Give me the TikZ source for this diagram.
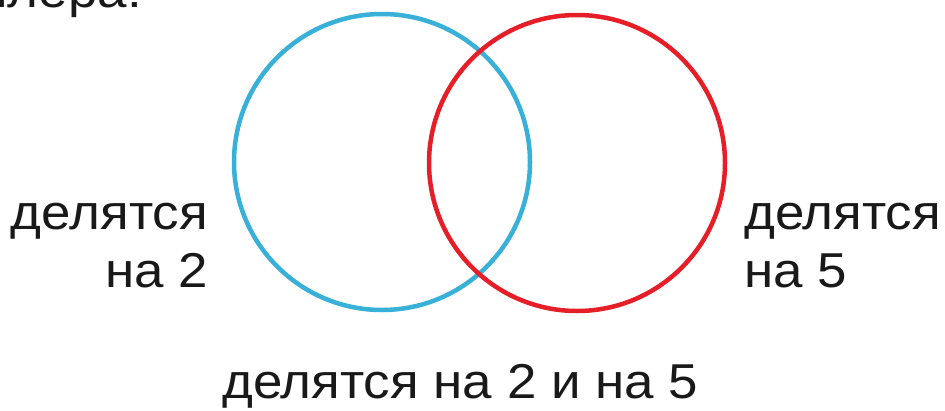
\documentclass[tikz,border=0pt]{standalone}
\usepackage{fontspec}
\setmainfont{Liberation Sans}[FakeStretch=1.08]
\definecolor{cblue}{RGB}{56,176,216}
\definecolor{cred}{RGB}{230,30,40}
\begin{document}
\begin{tikzpicture}[x=1pt,y=-1pt,
  lbl/.style={inner sep=0pt,font=\fontsize{49}{58}\selectfont,text=black!90},
  ring/.style={line width=4.5pt}]
\clip (0,0) rectangle (945,410);
\useasboundingbox (0,0) rectangle (945,410);
\node[lbl,anchor=base east] (top) at (142,7) {Эйлера:};
\node[ring,draw=cblue,circle,minimum size=296pt] (two) at (382,162) {};
\node[ring,draw=cred,circle,minimum size=296pt] (five) at (577,163) {};
\node[lbl,anchor=base east] (l1) at (208,229) {делятся};
\node[lbl,anchor=base east] (l2) at (208,287) {на 2};
\node[lbl,anchor=base west] (r1) at (744,229) {делятся};
\node[lbl,anchor=base west] (r2) at (744,287) {на 5};
\node[lbl,anchor=base west] (b) at (222,398) {делятся на 2 и на 5};
\end{tikzpicture}
\end{document}
